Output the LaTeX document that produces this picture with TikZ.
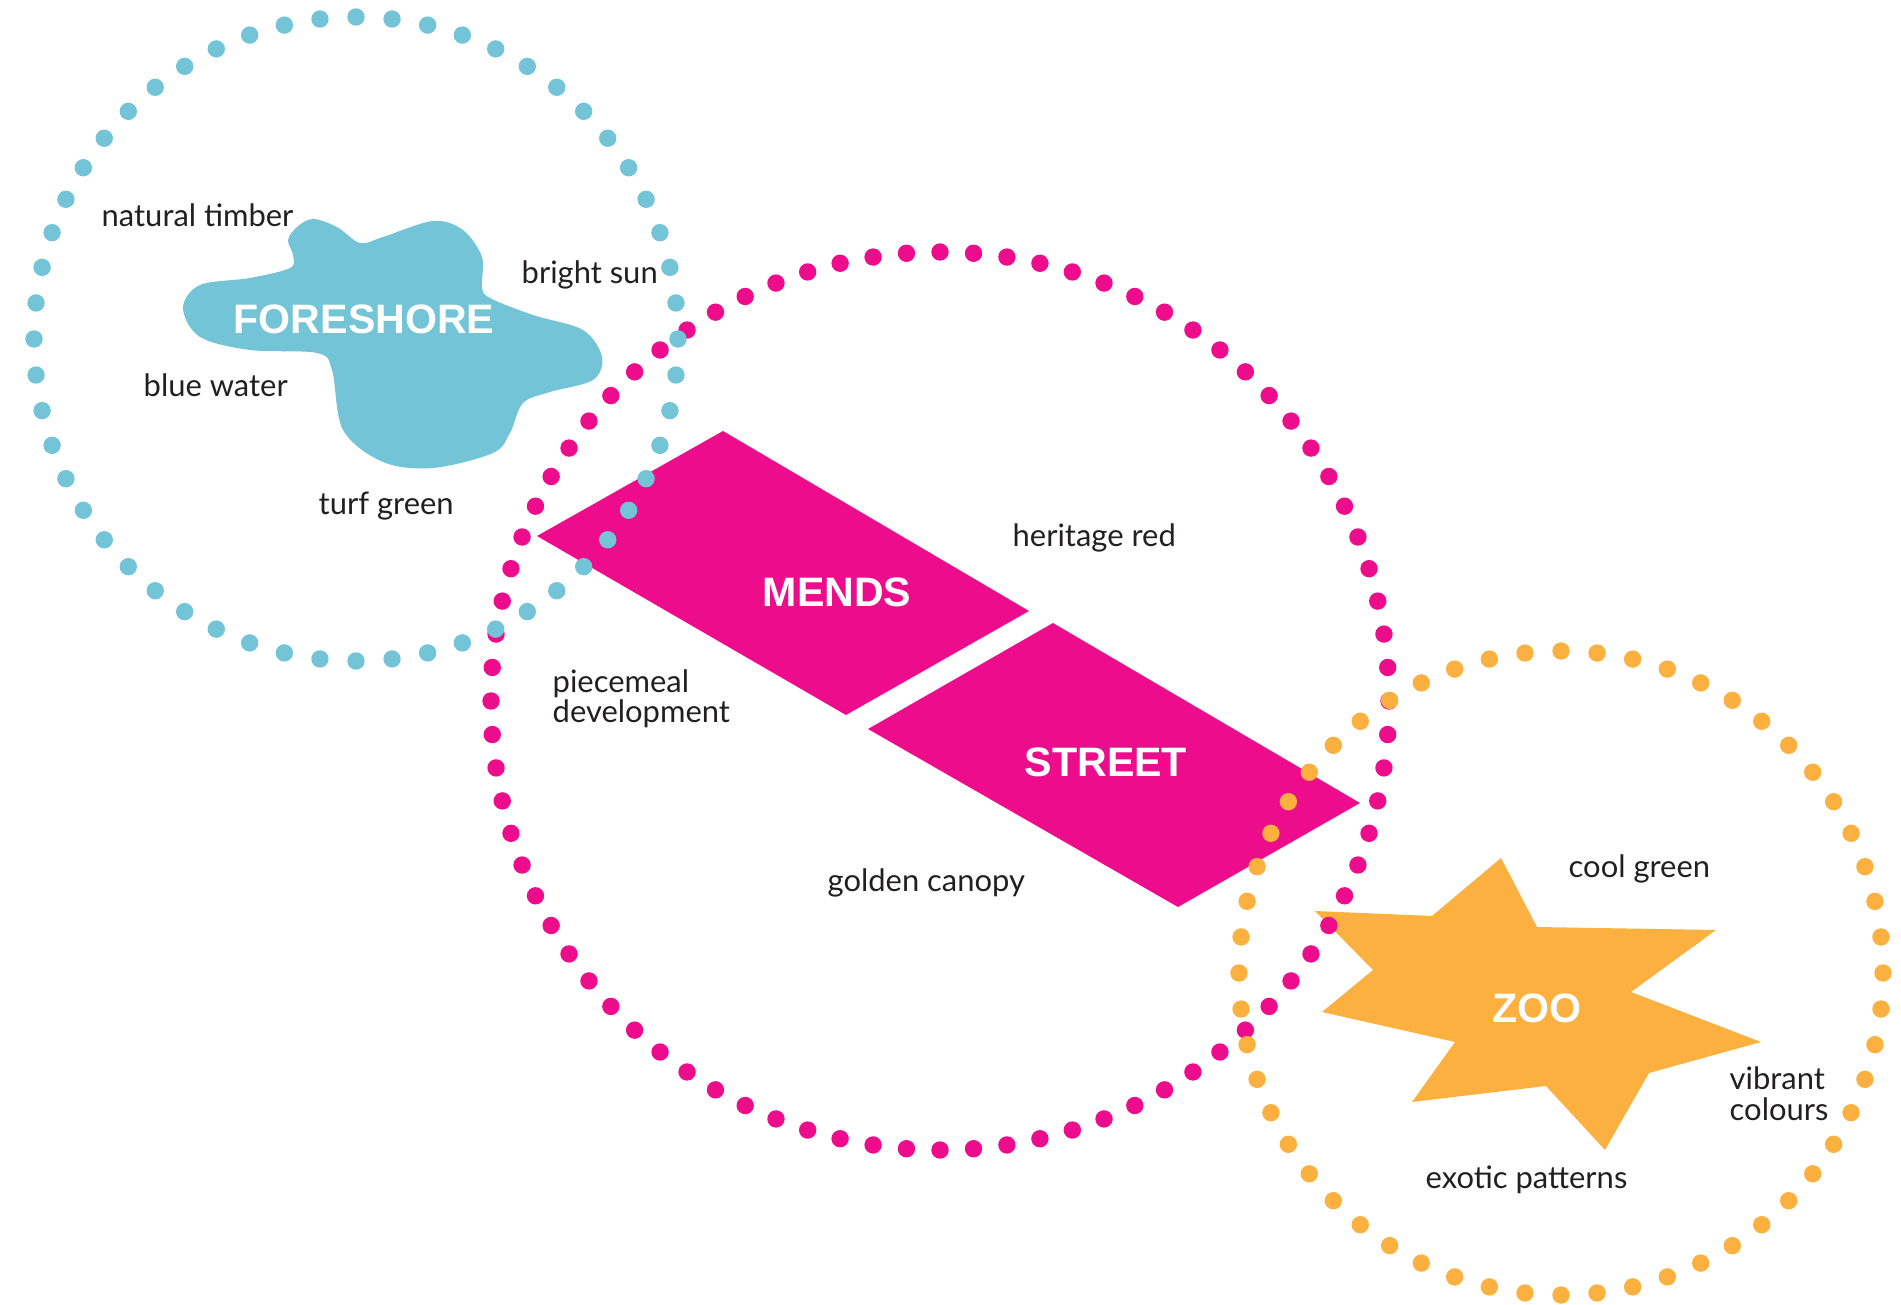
\documentclass[tikz,border=0pt]{standalone}
\usepackage{fontspec}
\setmainfont{Lato}
\newfontfamily\headfont{Liberation Sans}
\usepackage{xcolor}
\definecolor{seablue}{HTML}{73C4D6}
\definecolor{menpink}{HTML}{EC0C8C}
\definecolor{zooorange}{HTML}{FBB040}
\definecolor{inkgray}{HTML}{231F20}

\begin{document}
\begin{tikzpicture}[
    lbl/.style={anchor=base west, inner sep=0pt, text=inkgray, align=left,
        font=\fontsize{8.8}{8.6}\selectfont},
    head/.style={inner sep=0pt, text=white, font=\headfont\bfseries\fontsize{11.7}{12}\selectfont},
    bdot/.style={fill=seablue},
    pdot/.style={fill=menpink},
    odot/.style={fill=zooorange},
]
    \useasboundingbox (0,0) rectangle (19.01,-13.05);

    % shapes
    \fill[seablue] plot[smooth cycle, tension=0.55] coordinates {
        (2.50,-2.78) (2.90,-2.68) (2.93,-2.55) (2.88,-2.40) (2.97,-2.27) (3.13,-2.19)
        (3.37,-2.27) (3.60,-2.43) (3.83,-2.37) (4.33,-2.21) (4.63,-2.30) (4.82,-2.57)
        (4.82,-2.87) (4.90,-2.98) (5.33,-3.15) (5.83,-3.30) (6.02,-3.57) (5.93,-3.80)
        (5.50,-3.92) (5.23,-4.03) (5.10,-4.33) (4.93,-4.53) (4.33,-4.68) (3.83,-4.62)
        (3.43,-4.30) (3.32,-3.70) (3.17,-3.53) (2.50,-3.50) (2.00,-3.37) (1.83,-3.08)
        (2.00,-2.85)};
    \fill[menpink] (5.37,-5.36) -- (7.23,-4.31) -- (10.29,-6.11) -- (8.46,-7.15) -- cycle;
    \fill[menpink] (8.68,-7.29) -- (10.53,-6.23) -- (13.60,-8.03) -- (11.78,-9.07) -- cycle;
    \fill[zooorange] (13.15,-9.11) -- (14.32,-9.16) -- (15.01,-8.58) -- (15.37,-9.27)
        -- (17.16,-9.30) -- (16.31,-9.92) -- (17.61,-10.42) -- (16.49,-10.73)
        -- (16.05,-11.50) -- (15.46,-10.86) -- (14.12,-11.02) -- (14.55,-10.42)
        -- (13.22,-10.12) -- (13.73,-9.70) -- cycle;

    % dotted rings
    \coordinate (bluec) at (3.56,-3.39);
    \coordinate (pinkc) at (9.40,-7.01);
    \coordinate (orangec) at (15.61,-9.73);
    \foreach \a in {0,...,83}
        \fill[pdot] (pinkc) ++(\a*30/7:4.49) circle[radius=0.087];
    \foreach \a in {0,...,55}
        \fill[bdot] (bluec) ++(\a*45/7:3.22) circle[radius=0.087];
    \foreach \a in {0,...,55}
        \fill[odot] (orangec) ++(\a*45/7:3.22) circle[radius=0.087];

    % titles
    \node[head] (foreshore) at (3.64,-3.19) {FORESHORE};
    \node[head] (mends) at (8.37,-5.92) {MENDS};
    \node[head] (street) at (11.06,-7.62) {STREET};
    \node[head] (zoo) at (15.37,-10.08) {ZOO};

    % labels
    \node[lbl] (timber) at (1.01,-2.27) {natural timber};
    \node[lbl] (sun) at (5.21,-2.84) {bright sun};
    \node[lbl] (water) at (1.43,-3.97) {blue water};
    \node[lbl] (turf) at (3.18,-5.14) {turf green};
    \node[lbl] (heritage) at (10.12,-5.47) {heritage red};
    \node[lbl] (piecemeal) at (5.52,-7.23) {piecemeal\\development};
    \node[lbl] (canopy) at (8.27,-8.92) {golden canopy};
    \node[lbl] (cool) at (15.68,-8.77) {cool green};
    \node[lbl] (vibrant) at (17.29,-11.20) {vibrant\\colours};
    \node[lbl] (exotic) at (14.25,-11.88) {exotic patterns};
\end{tikzpicture}
\end{document}
